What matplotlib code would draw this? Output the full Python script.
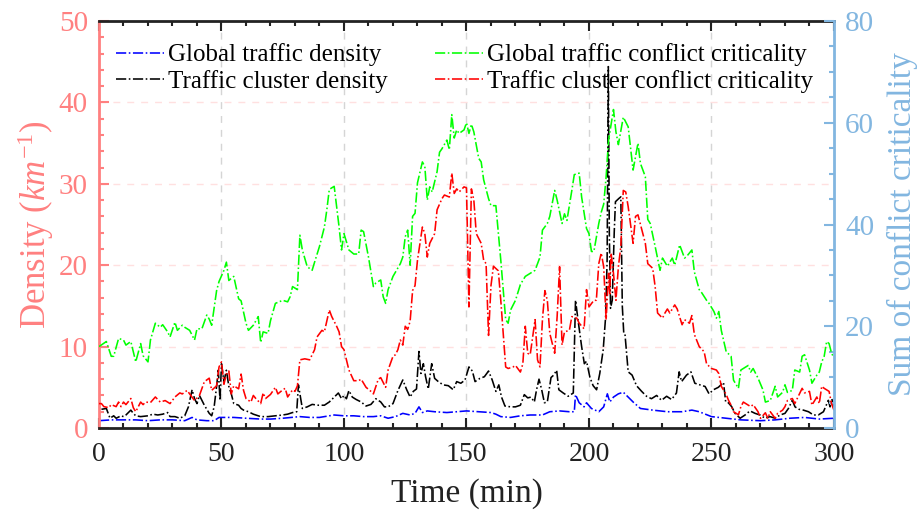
import matplotlib
matplotlib.use("Agg")
import matplotlib.pyplot as plt
from matplotlib.ticker import MultipleLocator

# Data
# density series (left axis, km^-1)
global_density_t = [0, 5, 10, 15, 20, 25, 30, 35, 38, 40,
                    44, 47, 49, 55, 60, 66, 70, 75, 82, 86,
                    90, 96, 100, 104, 108, 112, 115, 118, 121, 124,
                    127, 129, 130.6, 132, 134, 137, 142, 146, 150, 155,
                    160, 162, 164, 168, 172, 176, 181, 184, 188, 192,
                    194, 194.5, 196, 198, 199, 201, 204, 206, 207.5, 208.5,
                    210, 212, 214, 216, 218, 221, 226, 232, 238, 242,
                    245, 250, 256, 262, 270, 276, 282, 288, 294, 300]
global_density = [0.9, 1.0, 1.0, 1.0, 0.9, 1.0, 1.0, 0.9, 1.3, 1.0,
                  0.9, 0.9, 1.3, 1.3, 1.2, 1.1, 1.1, 1.2, 1.4, 1.3,
                  1.3, 1.6, 1.5, 1.5, 1.4, 1.4, 1.5, 1.2, 1.4, 1.8,
                  1.6, 1.8, 2.6, 1.9, 2.1, 2.0, 1.9, 2.0, 2.1, 2.0,
                  1.9, 1.7, 1.4, 1.3, 1.5, 1.6, 1.6, 2.0, 2.1, 2.0,
                  2.0, 4.1, 3.1, 2.6, 3.1, 2.4, 2.0, 2.6, 4.2, 3.2,
                  3.8, 4.2, 4.4, 3.8, 3.2, 2.4, 2.2, 2.0, 2.0, 2.2,
                  2.0, 1.4, 1.2, 1.0, 0.9, 1.0, 1.2, 1.3, 1.1, 1.2]

cluster_density_t = [1, 3, 4.5, 6, 7, 9, 10, 11, 13, 14,
                     15, 17, 20, 22, 24, 26, 28, 29, 31, 33,
                     35, 36.5, 38, 39, 40, 41, 43, 45, 46, 47,
                     48, 48.7, 49.4, 50, 51, 52, 53, 54, 55, 57,
                     58, 59, 61, 63, 66, 69, 72, 75, 77, 79,
                     80.7, 81.4, 82, 83, 85, 87, 89.5, 92, 94, 96,
                     97.7, 99, 100, 101, 102, 103.4, 105, 107, 109, 111,
                     113, 115, 116.5, 118, 120, 122, 124, 125.6, 127, 128.3,
                     129.6, 130.6, 131.4, 132.4, 133.3, 134.4, 135.8, 137, 138.5, 140.5,
                     142.6, 144.6, 146, 147.7, 149.4, 151, 152.4, 153.5, 155.5, 157.3,
                     159, 160.5, 162, 163.2, 164.3, 165.7, 168, 170, 172, 173.6,
                     175, 176.3, 177.7, 178.6, 179.6, 180.7, 181.8, 183, 184.5, 185.6,
                     186.8, 187.7, 189.5, 191.5, 193.6, 194.5, 195.6, 197, 198.1, 199,
                     200.4, 201.7, 203.1, 204.4, 205.8, 206.8, 207.4, 207.9, 208.3, 208.8,
                     209.5, 210.3, 210.8, 212.2, 213, 213.6, 214.2, 214.7, 216, 217.6,
                     219.4, 221.5, 223.5, 225.5, 227.6, 229.6, 231.7, 233.7, 235.7, 236.8,
                     237.8, 239.8, 241.6, 243.2, 245.3, 247.4, 249, 250.8, 252.8, 254.9,
                     255.8, 256.9, 258.3, 259.6, 261.7, 263.7, 265.7, 267.8, 269.8, 271.9,
                     273.9, 276, 278, 280, 281.4, 283, 284.1, 285.7, 287.5, 289.6,
                     291.6, 293.6, 295.7, 297.7, 298.4, 299.1, 300]
cluster_density = [2.3, 2.4, 1.2, 1.5, 1.2, 1.5, 1.4, 1.6, 2.2, 1.8,
                   1.5, 1.4, 1.5, 1.7, 1.6, 1.7, 1.9, 1.4, 1.4, 1.2,
                   1.5, 2.6, 4.7, 3.6, 3.0, 4.0, 2.8, 1.8, 1.5, 2.6,
                   5.1, 7.1, 3.4, 7.9, 5.7, 7.1, 5.1, 4.2, 3.0, 2.8,
                   2.4, 2.2, 2.0, 1.7, 1.4, 1.4, 1.5, 1.6, 1.7, 1.9,
                   2.0, 5.3, 4.2, 2.4, 2.6, 2.9, 2.8, 2.8, 3.2, 3.8,
                   4.3, 3.6, 4.0, 3.6, 4.6, 3.8, 3.5, 3.2, 2.7, 2.9,
                   3.6, 3.2, 2.6, 2.6, 3.0, 4.6, 5.9, 4.7, 3.8, 4.5,
                   4.8, 9.4, 6.7, 7.9, 6.3, 4.8, 7.9, 6.1, 5.7, 5.3,
                   5.2, 4.7, 5.7, 5.5, 5.9, 7.5, 7.0, 5.7, 6.1, 6.3,
                   7.0, 5.9, 4.5, 5.3, 3.8, 2.7, 2.6, 2.6, 2.8, 4.1,
                   3.7, 3.8, 3.2, 4.7, 6.0, 4.7, 3.1, 3.2, 6.2, 6.5,
                   7.1, 4.7, 4.3, 3.9, 4.3, 15.7, 13.1, 10.0, 7.9, 8.2,
                   6.2, 5.2, 4.7, 6.7, 9.6, 13.7, 20.6, 44.4, 23.9, 14.7,
                   15.7, 24.0, 27.8, 28.2, 28.4, 15.0, 11.6, 11.5, 6.9, 6.5,
                   5.2, 4.5, 3.9, 3.6, 4.0, 3.4, 3.9, 3.5, 4.3, 6.9,
                   5.7, 6.5, 6.9, 5.5, 5.3, 5.1, 4.2, 4.7, 5.0, 5.6,
                   3.2, 3.1, 2.6, 1.8, 1.2, 1.6, 2.1, 1.8, 1.6, 1.2,
                   1.4, 1.2, 1.6, 1.8, 2.4, 3.4, 2.6, 2.3, 2.2, 2.0,
                   1.6, 1.6, 2.0, 3.4, 2.6, 3.6, 2.6]

# conflict criticality series (right axis)
global_crit_t = [0, 3, 5, 6, 8, 10, 11, 13, 15, 17,
                 18, 20, 21, 23, 25, 26, 28, 29, 31, 32,
                 34, 35, 37, 39, 40, 42, 44, 45, 46, 48,
                 49, 51, 52, 53, 55, 57, 58, 60, 61, 63,
                 65, 66, 67, 69, 70, 72, 75, 77, 78, 79,
                 81, 82, 83, 85, 87, 88, 90, 92, 93, 94,
                 96, 97, 98, 99, 100, 102, 104, 106, 107, 108,
                 110, 112, 113, 115, 116, 117, 118, 120, 123, 124,
                 125, 126, 127, 128, 129, 130, 132, 133, 134, 135,
                 136, 138, 139, 140, 142, 143, 144, 145, 146, 147,
                 149, 150, 151, 152, 153, 155, 156, 157, 159, 160,
                 162, 164, 166, 167, 168, 170, 172, 174, 176, 178,
                 180, 181, 183, 184, 186, 187, 189, 190, 191, 193,
                 194, 196, 197, 199, 200, 201, 202, 204, 205, 206,
                 207, 208, 210, 211, 212, 214, 216, 218, 220, 221,
                 223, 224, 225, 227, 229, 230, 232, 234, 235, 237,
                 239, 240, 242, 243, 245, 246, 248, 249, 251, 252,
                 253, 254, 256, 258, 259, 261, 262, 264, 265, 266,
                 267, 269, 271, 272, 274, 276, 277, 279, 280, 281,
                 283, 284, 286, 287, 288, 290, 291, 293, 294, 295,
                 296, 297, 298, 299, 300]
global_crit = [16.0, 17.0, 14.1, 14.1, 17.6, 17.3, 16.3, 17.0, 13.0, 16.6,
               14.2, 13.0, 17.3, 20.6, 19.8, 20.3, 18.9, 17.9, 20.8, 19.2,
               20.2, 19.8, 19.2, 17.3, 19.5, 19.5, 22.2, 21.4, 20.2, 27.0,
               28.8, 31.0, 32.6, 29.0, 29.8, 25.4, 25.0, 20.6, 19.2, 20.2,
               21.9, 16.8, 18.9, 18.6, 21.1, 24.5, 25.1, 24.8, 25.8, 27.8,
               27.2, 37.9, 35.0, 31.7, 31.0, 32.6, 35.7, 39.5, 42.9, 46.9,
               47.5, 43.5, 39.5, 35.0, 38.2, 35.0, 34.2, 34.2, 38.9, 38.6,
               33.6, 27.8, 28.5, 29.1, 25.8, 24.5, 27.2, 29.8, 32.3, 33.6,
               37.6, 38.9, 32.0, 41.6, 42.2, 48.2, 52.3, 51.4, 44.8, 47.4,
               46.4, 50.4, 54.2, 54.9, 56.6, 54.7, 61.6, 57.0, 58.6, 57.9,
               58.6, 60.0, 57.9, 59.7, 58.2, 53.0, 52.3, 48.8, 45.1, 43.7,
               43.7, 33.0, 21.3, 20.6, 23.2, 25.1, 28.2, 29.8, 30.4, 31.0,
               33.6, 38.9, 40.2, 41.6, 46.7, 44.8, 40.2, 42.1, 40.8, 46.7,
               49.8, 50.1, 45.4, 39.2, 38.2, 34.7, 34.7, 40.2, 42.4, 44.0,
               49.4, 56.6, 62.6, 58.2, 55.7, 61.1, 59.2, 50.7, 56.0, 52.0,
               49.4, 41.0, 40.2, 35.7, 31.0, 33.4, 31.8, 33.4, 32.0, 36.0,
               33.4, 33.8, 35.0, 30.7, 27.2, 26.6, 25.1, 24.5, 22.9, 21.6,
               22.9, 19.2, 15.0, 14.1, 9.4, 7.8, 11.4, 12.0, 12.3, 11.0,
               11.7, 9.8, 7.5, 5.1, 5.4, 8.2, 6.1, 7.0, 8.5, 7.0,
               7.4, 11.4, 11.0, 14.1, 14.4, 11.4, 8.8, 10.4, 11.0, 13.0,
               14.1, 17.0, 16.6, 14.7, 13.8]

cluster_crit_t = [0, 1, 2, 4, 5, 7, 8, 9, 10, 11, 13,
                  14, 15, 17, 18, 19, 21, 23, 25, 27, 29,
                  31, 33, 34, 36, 37, 39, 41, 43, 45, 46,
                  48, 49, 50, 51, 52, 53, 54, 55, 57, 58,
                  59, 60, 62, 63, 64, 66, 67, 68, 70, 72,
                  73, 75, 76, 77, 79, 80, 81, 82, 84, 86,
                  88, 89, 91, 92, 94, 95, 97, 98, 99, 100,
                  102, 104, 106, 107, 109, 111, 112, 114, 115, 117,
                  118, 120, 121, 122, 123, 124, 125, 126, 127, 128,
                  129, 130, 132, 133, 134, 135, 137, 138, 140, 141,
                  143, 144, 145, 146, 147, 149, 150, 151, 152, 153,
                  154, 156, 157, 158, 159, 160, 161, 163, 164, 166,
                  167, 169, 170, 172, 173, 174, 175, 176, 178, 179,
                  180, 181, 182, 183, 184, 186, 187, 188, 189, 190,
                  192, 193, 195, 196, 198, 199, 200, 202, 203, 204,
                  205, 206, 207, 208, 208.5, 209, 210, 211, 212, 213,
                  214, 215, 216, 218, 219, 220, 222, 223, 224, 226,
                  227, 228, 230, 231, 232, 233, 235, 236, 238, 239,
                  241, 242, 243, 245, 247, 248, 250, 252, 253, 254,
                  256, 257, 258, 259, 261, 262, 263, 265, 266, 267,
                  269, 270, 272, 273, 274, 276, 277, 279, 280, 281,
                  283, 284, 285, 287, 288, 290, 291, 293, 294, 295,
                  296, 298, 299, 300]
cluster_crit = [4.8, 4.8, 4.2, 4.0, 4.6, 4.2, 5.1, 4.2, 5.1, 4.6, 5.8,
                4.0, 3.2, 5.1, 4.6, 5.1, 5.0, 6.1, 5.1, 5.4, 4.8,
                6.1, 6.9, 6.7, 7.4, 6.7, 5.4, 6.4, 9.1, 9.8, 7.4,
                8.3, 12.0, 13.0, 8.6, 10.6, 11.2, 6.7, 8.3, 7.7, 10.6,
                7.4, 5.8, 5.1, 6.4, 5.8, 4.8, 6.9, 5.8, 6.6, 8.0,
                6.7, 7.5, 7.8, 6.1, 7.5, 7.2, 8.3, 13.4, 13.6, 13.4,
                15.4, 17.9, 19.2, 18.9, 23.2, 21.9, 20.0, 18.9, 16.0, 15.4,
                11.4, 9.3, 9.3, 9.6, 8.0, 7.2, 6.7, 9.6, 9.9, 8.0,
                11.4, 14.1, 14.4, 15.4, 17.3, 16.3, 20.0, 19.4, 21.0, 27.0,
                28.0, 33.0, 39.5, 38.2, 33.6, 36.3, 38.2, 42.9, 45.1, 45.8,
                45.4, 50.1, 46.1, 47.0, 46.4, 47.4, 47.2, 23.8, 47.0, 44.8,
                38.2, 36.3, 33.0, 32.3, 18.2, 28.0, 31.8, 30.9, 25.1, 12.0,
                11.7, 12.0, 12.3, 11.0, 12.6, 20.0, 14.7, 14.4, 21.3, 13.4,
                12.0, 21.3, 27.0, 25.1, 18.6, 14.7, 21.9, 31.7, 16.3, 18.9,
                19.2, 21.9, 21.6, 20.6, 19.5, 27.2, 23.8, 25.1, 25.1, 32.3,
                34.4, 31.7, 21.3, 30.4, 26.4, 34.4, 30.4, 25.1, 31.7, 35.7,
                46.7, 46.4, 43.5, 36.3, 41.6, 41.9, 38.2, 36.3, 32.3, 31.4,
                27.8, 22.6, 21.6, 22.6, 23.4, 22.6, 24.2, 23.4, 20.3, 21.3,
                20.6, 22.1, 18.4, 16.0, 15.0, 12.6, 11.7, 11.4, 10.7, 8.2,
                6.6, 5.4, 4.5, 3.2, 2.6, 4.2, 5.1, 4.5, 4.2, 4.6,
                3.2, 1.9, 3.0, 1.9, 3.2, 1.9, 2.9, 3.5, 4.2, 5.4,
                5.8, 4.8, 5.8, 7.8, 6.9, 7.2, 4.5, 6.1, 4.8, 8.2,
                7.8, 7.2, 4.8, 3.5]

LEFT_COLOR = '#FF8080'
RIGHT_COLOR = '#82B6E0'

plt.rcParams['font.family'] = ['Liberation Serif', 'DejaVu Serif']
plt.rcParams['mathtext.fontset'] = 'custom'
plt.rcParams['mathtext.it'] = 'Liberation Serif:italic'
plt.rcParams['mathtext.rm'] = 'Liberation Serif'

fig = plt.figure(figsize=(9.2, 5.11), dpi=100)
ax = fig.add_axes([0.1076, 0.1624, 0.7989, 0.7965])
ax2 = ax.twinx()

l1, = ax.plot(global_density_t, global_density, '-.', color='#0000FF', lw=1.15,
              label='Global traffic density')
l2, = ax.plot(cluster_density_t, cluster_density, '-.', color='black', lw=1.15,
              label='Traffic cluster density')
l3, = ax2.plot(global_crit_t, global_crit, '-.', color='#00FF00', lw=1.15,
               label='Global traffic conflict criticality')
l4, = ax2.plot(cluster_crit_t, cluster_crit, '-.', color='#FF0000', lw=1.15,
               label='Traffic cluster conflict criticality')

ax.set_xlim(0, 300)
ax.set_ylim(0, 50)
ax2.set_ylim(0, 80)
ax.xaxis.set_major_locator(MultipleLocator(50))
ax.xaxis.set_minor_locator(MultipleLocator(10))
ax.yaxis.set_major_locator(MultipleLocator(10))
ax.yaxis.set_minor_locator(MultipleLocator(2))
ax2.yaxis.set_major_locator(MultipleLocator(20))
ax2.yaxis.set_minor_locator(MultipleLocator(5))

# grid
for x in [50, 100, 150, 200, 250]:
    ax.axvline(x, color='#D5D5D5', lw=1.0, ls=(0, (5, 5)), zorder=0)
for y in [10, 20, 30, 40]:
    ax.axhline(y, color='#FFE0E0', lw=1.0, ls=(0, (5, 5)), zorder=0)

# spines
for side in ['top', 'bottom']:
    ax.spines[side].set_linewidth(2.0)
    ax.spines[side].set_color('#222222')
    ax2.spines[side].set_visible(False)
ax.spines['left'].set_color(LEFT_COLOR)
ax.spines['left'].set_linewidth(2.0)
ax.spines['right'].set_visible(False)
ax2.spines['left'].set_visible(False)
ax2.spines['right'].set_color(RIGHT_COLOR)
ax2.spines['right'].set_linewidth(2.0)

ax.tick_params(axis='x', which='both', direction='in', top=True, colors='#222222',
               labelsize=20, width=1.5, pad=10)
ax.tick_params(axis='x', which='major', length=7)
ax.tick_params(axis='x', which='minor', length=3.5)
ax.tick_params(axis='y', which='both', direction='in', colors=LEFT_COLOR,
               labelsize=21, width=1.5, pad=8)
ax.tick_params(axis='y', which='major', length=7)
ax.tick_params(axis='y', which='minor', length=3.5)
ax2.tick_params(axis='y', which='both', direction='in', colors=RIGHT_COLOR,
                labelsize=21, width=1.5, pad=8)
ax2.tick_params(axis='y', which='major', length=7)
ax2.tick_params(axis='y', which='minor', length=3.5)

ax.set_xlabel('Time (min)', fontsize=24, color='#222222', labelpad=8)
ax.set_ylabel(r'Density ($km^{\mathrm{-1}}$)', fontsize=25, color=LEFT_COLOR, labelpad=2)
ax2.set_ylabel('Sum of conflict criticality', fontsize=24, color=RIGHT_COLOR, labelpad=9)

ax2.legend(handles=[l1, l2, l3, l4], ncol=2, loc='upper left', bbox_to_anchor=(0.0, 0.988),
           frameon=False, fontsize=18, handlelength=1.92, handletextpad=0.15,
           labelspacing=0.15, columnspacing=1.9, borderaxespad=0.3)

fig.savefig('out.png', dpi=100)
